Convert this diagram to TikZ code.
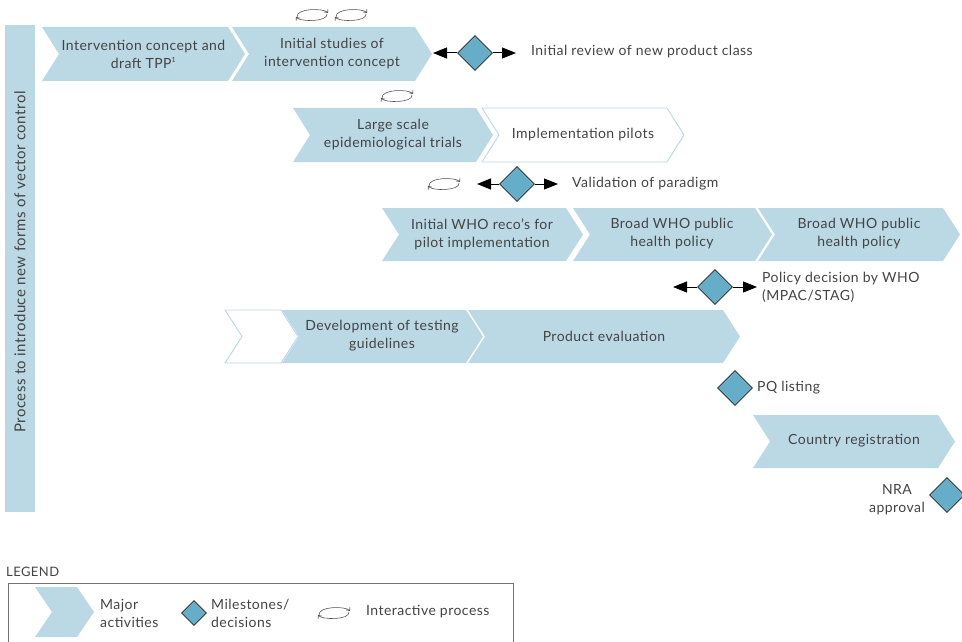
\documentclass[tikz,border=0pt]{standalone}
\usepackage{fontspec}
\setmainfont{Lato}[LetterSpace=3.3]
\usetikzlibrary{shapes.geometric,arrows.meta}
\definecolor{chev}{HTML}{BBD8E5}
\definecolor{msfill}{HTML}{66AEC8}
\definecolor{txt}{HTML}{444444}
\newcommand{\mychev}[5]{%
  \path[#1] (#2,#4) -- ({#3-17},#4) -- (#3,{(#4+#5)/2}) -- ({#3-17},#5) -- (#2,#5) -- ({#2+17},{(#4+#5)/2}) -- cycle;}
\tikzset{
  chevblue/.style={fill=chev},
  chevwhite/.style={fill=white,draw=chev,line width=0.9pt},
  lbl/.style={align=center,inner sep=0pt,text=txt},
  side/.style={align=left,inner sep=0pt,text=txt,anchor=west},
  milestone/.style={shape=diamond,draw=black!85,fill=msfill,line width=0.7pt,minimum width=35pt,minimum height=35pt,inner sep=0pt},
  msarrow/.style={draw=black,line width=1pt,-{Triangle[length=14pt,width=11pt]}},
  pics/cycleicon/.style={code={
    \draw[black!70,line width=0.55pt,-{Straight Barb[length=3pt,width=5pt]}] (-15,2) .. controls (-16,-7) and (12,-7) .. (16,-2);
    \draw[black!70,line width=0.55pt,-{Straight Barb[length=3pt,width=5pt]}] (15,-1) .. controls (16,7) and (-12,7) .. (-16,2);
  }}
}
\begin{document}
\begin{tikzpicture}[x=1pt,y=-1pt,font=\fontsize{14}{18}\selectfont]
\useasboundingbox (0,0) rectangle (962,642);
\clip (0,0) rectangle (962,642);

% side bar
\fill[chev] (5,25) rectangle (35,512);
\node[lbl,rotate=90,font=\fontsize{15}{18}\selectfont] (sidebar) at (20,262) {Process to introduce new forms of vector control};

% row 1
\mychev{chevblue}{42}{245}{27}{81}
\node[lbl] (c1) at (143.5,54) {Intervention concept and\\draft TPP\textsuperscript{\fontsize{7}{8}\selectfont 1}};
\mychev{chevblue}{232}{432}{27}{81}
\node[lbl] (c2) at (332,54) {Initial studies of\\intervention concept};
\pic at (312,15) {cycleicon};
\pic at (351,15) {cycleicon};
\node[milestone] (m1) at (475,53) {};
\coordinate (m1l) at (433,53);
\coordinate (m1r) at (516,53);
\draw[msarrow] (m1.west) -- (m1l);
\draw[msarrow] (m1.east) -- (m1r);
\node[side] (t1) at (531,52) {Initial review of new product class};

% row 2
\pic at (397,96) {cycleicon};
\mychev{chevwhite}{482}{684}{108}{162}
\node[lbl] (c4) at (583,135) {Implementation pilots};
\mychev{chevblue}{293}{493}{108}{162}
\node[lbl] (c3) at (393,135) {Large scale\\epidemiological trials};

% validation
\pic at (444,184) {cycleicon};
\node[milestone] (m2) at (517,184) {};
\coordinate (m2l) at (477,184);
\coordinate (m2r) at (558,184);
\draw[msarrow] (m2.west) -- (m2l);
\draw[msarrow] (m2.east) -- (m2r);
\node[side] (t2) at (572,184) {Validation of paradigm};

% row 3
\mychev{chevblue}{382}{583}{208}{261}
\node[lbl] (c5) at (482,234) {Initial WHO reco's for\\pilot implementation};
\mychev{chevblue}{573}{772}{208}{261}
\node[lbl] (c6) at (672,234) {Broad WHO public\\health policy};
\mychev{chevblue}{758}{960}{208}{261}
\node[lbl] (c7) at (859,234) {Broad WHO public\\health policy};

% policy decision
\node[milestone] (m3) at (715,287) {};
\coordinate (m3l) at (673,287);
\coordinate (m3r) at (757,287);
\draw[msarrow] (m3.west) -- (m3l);
\draw[msarrow] (m3.east) -- (m3r);
\node[side] (t3) at (762,287) {Policy decision by WHO\\(MPAC/STAG)};

% row 5
\mychev{chevwhite}{225}{298}{310}{363}
\mychev{chevblue}{282}{483}{310}{363}
\node[lbl] (c8) at (382,336) {Development of testing\\guidelines};
\mychev{chevblue}{468}{740}{310}{363}
\node[lbl] (c9) at (604,336) {Product evaluation};

% PQ listing
\node[milestone] (m4) at (735,388) {};
\node[side] (t4) at (757,388) {PQ listing};

% country registration
\mychev{chevblue}{753}{955}{415}{468}
\node[lbl] (c10) at (854,441) {Country registration};

% NRA approval
\node[milestone] (m5) at (947,495) {};
\node[lbl] (t5) at (897,500) {NRA\\approval};

% legend
\node[side,font=\fontsize{13}{16}\selectfont] (legtitle) at (6,572) {LEGEND};
\draw[black!55,line width=0.8pt] (8,583) rectangle (513,670);
\mychev{chevblue}{35}{94}{587}{637}
\node[side] (lg1) at (100,613) {Major\\activities};
\node[milestone,minimum width=25pt,minimum height=25pt] (lgm) at (194,613) {};
\node[side] (lg2) at (211,613) {Milestones/\\decisions};
\pic at (334,613) {cycleicon};
\node[side] (lg3) at (366,612) {Interactive process};
\end{tikzpicture}
\end{document}
